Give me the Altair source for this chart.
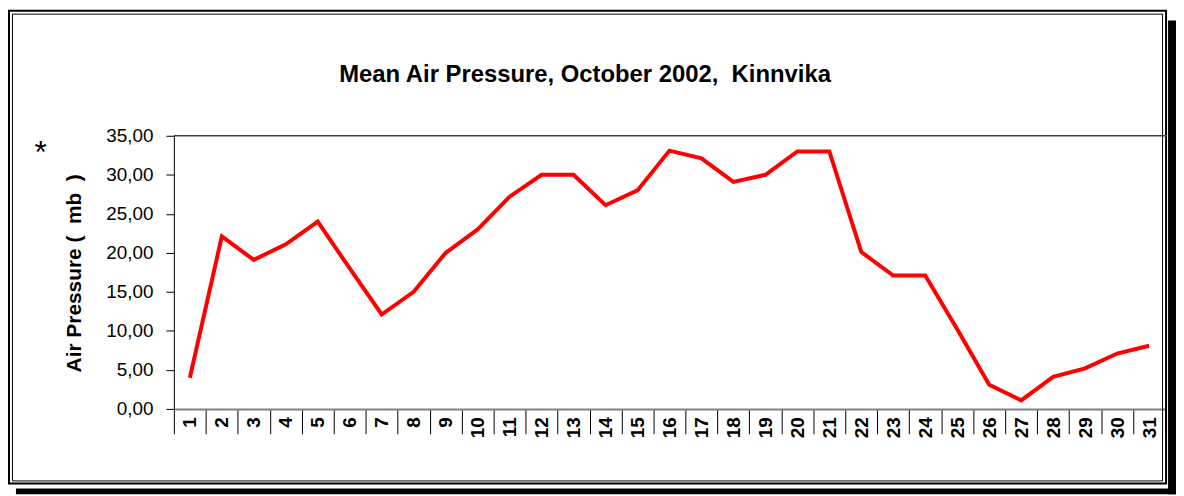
import altair as alt
import pandas as pd

days = [str(d) for d in range(1, 32)]
pressure = [4.0, 22.1, 19.1, 21.1, 24.0, 18.0, 12.1, 15.0, 20.0, 23.0,
            27.2, 30.0, 30.0, 26.1, 28.0, 33.1, 32.1, 29.1, 30.0, 33.0,
            33.0, 20.1, 17.1, 17.1, 10.2, 3.1, 1.1, 4.1, 5.2, 7.1, 8.1]
y_ticks = [0, 5, 10, 15, 20, 25, 30, 35]
y_top = [35]
title_text = "Mean Air Pressure, October 2002,\u00a0 Kinnvika"
y_title = "Air Pressure (\u00a0 mb \u00a0)"

df = pd.DataFrame({"day": days, "pressure": pressure})
top_df = pd.DataFrame({"pressure": y_top})
one = alt.Data(values=[{"k": 0}])

W, H = 998, 275
FONT = "Liberation Sans"
y_scale = alt.Scale(domain=[0, 35], nice=False, zero=True)

x_enc = alt.X(
    "day:O", sort=days,
    scale=alt.Scale(type="band", paddingInner=0, paddingOuter=0),
    axis=alt.Axis(
        title=None, grid=False, labelAngle=270, labelAlign="right",
        labelBaseline="middle", labelFontWeight="bold", labelFontSize=19,
        labelFont=FONT, labelColor="black", labelPadding=-17,
        labelOverlap=False,
        tickBand="extent", tickSize=25, tickColor="black", tickWidth=1,
        domainColor="#808080", domainWidth=2,
    ),
)
y_axis = alt.Axis(
    values=y_ticks, grid=False, labelOverlap=False, labelFlush=False,
    labelExpr="replace(format(datum.value, '.2f'), '.', ',')",
    labelFontSize=19, labelFont=FONT, labelColor="black", labelPadding=13,
    tickSize=8, tickColor="black", domainColor="black", domainWidth=1,
    title=y_title, titleFont=FONT, titleFontSize=21, titleFontWeight="bold",
    titleColor="black", titleAngle=270, titleAlign="center",
    titleBaseline="middle", titleX=-100, titleY=138,
)
y_enc = alt.Y("pressure:Q", scale=y_scale, axis=y_axis)

line = alt.Chart(df).mark_line(color="#FF0000", strokeWidth=4).encode(x=x_enc, y=y_enc)

top_grid = alt.Chart(top_df).mark_rule(color="#404040", strokeWidth=1.5).encode(
    y=y_enc, x=alt.value(0), x2=alt.value(W + 2),
)

title = alt.Chart(one).mark_text(
    text=title_text, font=FONT, fontSize=24, fontWeight="bold",
    align="center", baseline="alphabetic", color="black",
).encode(x=alt.value(589 - 175), y=alt.value(81 - 135))

star = alt.Chart(one).mark_text(
    text="*", font=FONT, fontSize=32, align="center", baseline="alphabetic", color="black",
).encode(x=alt.value(41 - 175), y=alt.value(162 - 135))

outer = alt.Chart(one).mark_rect(fill=None, stroke="black", strokeWidth=2).encode(
    x=alt.value(-166), x2=alt.value(999), y=alt.value(-126), y2=alt.value(350)
)
inner = alt.Chart(one).mark_rect(fill=None, stroke="black", strokeWidth=1).encode(
    x=alt.value(-162.5), x2=alt.value(995.5), y=alt.value(-122.5), y2=alt.value(347.5)
)
shadow_r = alt.Chart(one).mark_rect(color="black").encode(
    x=alt.value(1001), x2=alt.value(1009), y=alt.value(-116), y2=alt.value(361)
)
shadow_b = alt.Chart(one).mark_rect(color="black").encode(
    x=alt.value(-159), x2=alt.value(1009), y=alt.value(355), y2=alt.value(361)
)

chart = alt.layer(
    outer, inner, shadow_r, shadow_b, top_grid, line, title, star
).properties(
    width=W, height=H,
    autosize=alt.AutoSizeParams(type="none"),
    padding={"left": 167, "top": 127, "right": 11, "bottom": 86},
    background="white",
).configure_view(stroke=None)

chart.save("out.html", embed_options={"renderer": "svg", "actions": False})
